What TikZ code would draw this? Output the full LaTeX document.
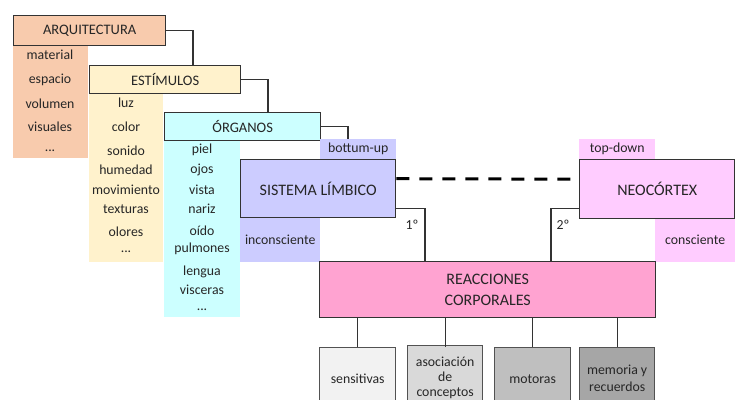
\documentclass[tikz,border=0pt]{standalone}
\usepackage{fontspec}
\setmainfont{Carlito}
\definecolor{orangec}{HTML}{F8CBAD}
\definecolor{yellowc}{HTML}{FFF2CC}
\definecolor{cyanc}{HTML}{CCFFFF}
\definecolor{lavc}{HTML}{CCCCFF}
\definecolor{lpinkc}{HTML}{FFCCFF}
\definecolor{pinkc}{HTML}{FFA3D1}
\definecolor{g1}{HTML}{F2F2F2}
\definecolor{g2}{HTML}{D9D9D9}
\definecolor{g3}{HTML}{BFBFBF}
\definecolor{g4}{HTML}{A6A6A6}
\definecolor{linec}{HTML}{333333}
\definecolor{txtc}{HTML}{262626}
\begin{document}
\begin{tikzpicture}[x=1pt,y=-1pt,
  every node/.style={text=txtc, font=\fontsize{13.8}{17}\selectfont},
  bg/.style={anchor=north west, inner sep=0pt, draw=none},
  hbox/.style={anchor=north west, inner sep=0pt, draw=linec, line width=1.4pt},
  big/.style={font=\fontsize{16}{21}\selectfont},
  mid/.style={font=\fontsize{14.5}{18}\selectfont},
  item/.style={inner sep=0pt},
  conn/.style={draw=linec, line width=1.3pt},
  lowbox/.style={anchor=north west, inner sep=0pt, draw=linec!85, line width=1.3pt, minimum height=62pt, align=center, text depth=0pt}
]
\useasboundingbox (0,0) rectangle (735,399);
\clip (0,0) rectangle (735,399);
% columns
\node[bg, fill=orangec, minimum width=75pt, minimum height=113pt] (arqcol) at (13,45) {};
\node[bg, fill=yellowc, minimum width=74pt, minimum height=169pt] (esticol) at (89,93) {};
\node[bg, fill=cyanc, minimum width=76pt, minimum height=177pt] (orgcol) at (164,140) {};
% headers
\node[hbox, fill=orangec, minimum width=152pt, minimum height=30pt, mid] (arq) at (13,15) {ARQUITECTURA};
\node[hbox, fill=yellowc, minimum width=151pt, minimum height=28pt, mid] (esti) at (89,65) {ESTÍMULOS};
\node[hbox, fill=cyanc, minimum width=156pt, minimum height=28pt, mid] (org) at (164,112) {ÓRGANOS};
% orange items
\node[item] (a1) at (50,55) {material};
\node[item] (a2) at (50,80) {espacio};
\node[item] (a3) at (50,104) {volumen};
\node[item] (a4) at (50,127) {visuales};
\node[item] (a5) at (50,151) {...};
% yellow items
\node[item] (e1) at (126,103) {luz};
\node[item] (e2) at (126,127) {color};
\node[item] (e3) at (126,151) {sonido};
\node[item] (e4) at (126,170) {humedad};
\node[item] (e5) at (126,190) {movimiento};
\node[item] (e6) at (126,209) {texturas};
\node[item] (e7) at (126,232) {olores};
\node[item] (e8) at (126,252) {...};
% cyan items
\node[item] (o1) at (202,150) {piel};
\node[item] (o2) at (202,170) {ojos};
\node[item] (o3) at (202,190) {vista};
\node[item] (o4) at (202,209) {nariz};
\node[item] (o5) at (202,231) {oído};
\node[item] (o6) at (202,249) {pulmones};
\node[item] (o7) at (202,272) {lengua};
\node[item] (o8) at (202,290) {visceras};
\node[item] (o9) at (202,310) {...};
% limbic
\node[bg, fill=lavc, minimum width=76pt, minimum height=20pt] (bu) at (320,139) {bottum-up};
\node[bg, fill=lavc, minimum width=80pt, minimum height=45pt] (incons) at (240,217) {inconsciente};
\node[hbox, fill=lavc, minimum width=155pt, minimum height=58pt, big] (sis) at (240,159) {SISTEMA LÍMBICO};
% neocortex
\node[bg, fill=lpinkc, minimum width=76pt, minimum height=20pt] (td) at (579,139) {top-down};
\node[bg, fill=lpinkc, minimum width=80pt, minimum height=44pt] (cons) at (655,218) {consciente};
\node[hbox, fill=lpinkc, minimum width=155pt, minimum height=59pt, big] (neo) at (579,159) {NEOCÓRTEX};
% reacciones
\node[hbox, fill=pinkc, minimum width=336pt, minimum height=56pt, big, align=center] (reac) at (319,261) {REACCIONES\\CORPORALES};
% lower boxes
\node[lowbox, fill=g1, minimum width=76pt] (sens) at (319,347) {sensitivas};
\node[lowbox, fill=g2, minimum width=75pt, font=\fontsize{13.8}{15}\selectfont] (asoc) at (407,345) {asociación\\de\\conceptos};
\node[lowbox, fill=g3, minimum width=76pt] (mot) at (494,347) {motoras};
\node[lowbox, fill=g4, minimum width=75pt] (mem) at (579,347) {memoria y\\recuerdos};
% connectors
\coordinate (c1) at (193,65);
\coordinate (c2) at (268,112);
\coordinate (c3) at (348,139);
\draw[conn] (arq.east) -| (c1);
\draw[conn] (esti.east) -| (c2);
\draw[conn] (org.east) -| (c3);
\draw[conn] ([yshift=10pt]sis.south east) -| ([xshift=106pt]reac.north west);
\draw[conn] ([yshift=11pt]neo.south west) -| ([xshift=232pt]reac.north west);
\draw[draw=black, line width=3pt, dash pattern=on 13pt off 10pt] ([yshift=10pt]sis.east) -- ([yshift=10pt]neo.west);
\node[item] (l1) at (412,225) {1º};
\node[item] (l2) at (563,225) {2º};
\foreach \b in {sens,mot,mem}{
  \draw[conn] (\b.north |- reac.south) -- (\b.north);
}
\draw[conn] (asoc.north |- reac.south) -- ([yshift=-2pt]asoc.north);
\end{tikzpicture}
\end{document}
